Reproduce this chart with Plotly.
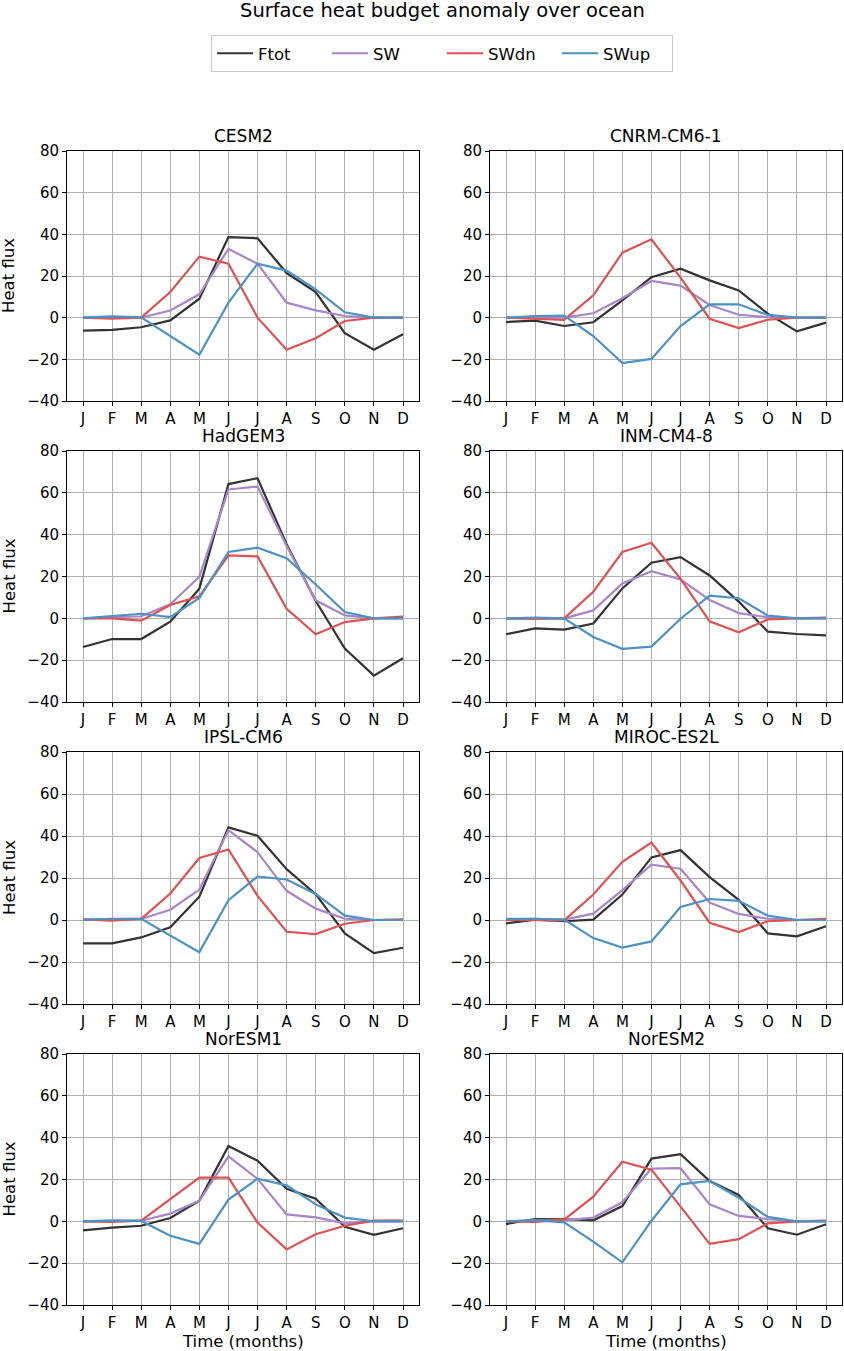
import plotly.graph_objects as go

months = ["J", "F", "M", "A", "M", "J", "J", "A", "S", "O", "N", "D"]
month_idx = list(range(12))

models = ["CESM2", "CNRM-CM6-1", "HadGEM3", "INM-CM4-8",
          "IPSL-CM6", "MIROC-ES2L", "NorESM1", "NorESM2"]

series_names = ["Ftot", "SW", "SWdn", "SWup"]
series_colors = ["#333333", "#a985ca", "#de5253", "#4c92c3"]

# values
ftot_cesm2 = [-6.2, -5.9, -4.6, -1.3, 9.1, 38.7, 38.1, 21.4, 12.3, -7.4, -15.4, -8.0]
sw_cesm2 = [0.0, 0.3, 0.0, 3.4, 11.2, 33.0, 25.9, 7.2, 3.5, 0.8, 0.0, 0.0]
swdn_cesm2 = [0.0, -0.5, 0.0, 12.3, 29.3, 25.9, 0.0, -15.4, -9.9, -1.6, 0.0, 0.0]
swup_cesm2 = [0.0, 0.6, 0.2, -8.8, -17.8, 7.2, 25.9, 22.6, 13.6, 2.6, 0.0, 0.0]

ftot_cnrm = [-2.1, -1.4, -4.0, -2.2, 8.3, 19.4, 23.5, 17.9, 13.1, 1.9, -6.6, -2.4]
sw_cnrm = [0.0, 0.0, 0.0, 2.1, 9.3, 17.6, 15.4, 6.1, 1.4, 0.2, 0.0, 0.0]
swdn_cnrm = [0.0, -0.6, -1.1, 10.7, 31.2, 37.6, 19.2, -0.5, -5.0, -1.0, 0.0, 0.0]
swup_cnrm = [0.0, 0.8, 1.0, -8.8, -21.8, -19.8, -4.0, 6.4, 6.4, 1.3, 0.0, 0.0]

ftot_hadgem = [-13.7, -9.9, -9.9, -1.6, 14.2, 64.2, 67.0, 35.4, 8.3, -14.5, -27.4, -19.1]
sw_hadgem = [0.0, 0.5, 1.0, 6.7, 19.9, 61.6, 63.0, 34.6, 8.6, 1.4, 0.0, 0.0]
swdn_hadgem = [0.0, 0.0, -1.1, 6.4, 10.5, 30.1, 29.6, 4.6, -7.6, -1.8, 0.0, 0.8]
swup_hadgem = [0.0, 1.0, 2.2, 0.6, 9.7, 31.7, 33.8, 28.8, 16.2, 3.0, 0.0, 0.0]

ftot_inm = [-7.6, -4.8, -5.4, -2.5, 14.3, 26.6, 29.3, 20.5, 8.0, -6.4, -7.5, -8.1]
sw_inm = [0.0, 0.0, 0.0, 3.8, 16.7, 22.5, 18.6, 8.8, 2.5, 0.5, 0.0, 0.0]
swdn_inm = [0.0, -0.3, 0.0, 12.7, 31.7, 36.1, 18.9, -1.4, -6.7, -0.5, 0.0, 0.3]
swup_inm = [0.0, 0.3, 0.0, -8.9, -14.6, -13.5, -0.2, 10.8, 9.6, 1.3, 0.0, 0.0]

ftot_ipsl = [-11.1, -11.1, -8.3, -3.5, 11.1, 44.1, 40.1, 24.2, 12.3, -6.4, -15.8, -13.2]
sw_ipsl = [0.3, 0.3, 0.5, 4.9, 14.5, 42.8, 32.3, 13.9, 5.4, 0.6, 0.0, 0.0]
swdn_ipsl = [0.3, -0.3, 0.5, 12.6, 29.5, 33.6, 11.5, -5.6, -6.7, -1.8, 0.0, 0.3]
swup_ipsl = [0.0, 0.6, 0.6, -7.3, -15.3, 9.4, 20.7, 19.3, 12.4, 2.1, 0.0, 0.0]

ftot_miroc = [-1.6, 0.2, -0.6, 0.2, 12.1, 29.8, 33.3, 20.4, 9.6, -6.4, -7.8, -3.0]
sw_miroc = [0.3, 0.6, 0.2, 3.0, 14.2, 26.3, 24.4, 8.3, 2.9, 0.6, 0.0, 0.0]
swdn_miroc = [0.0, -0.2, -0.2, 12.1, 27.7, 36.9, 18.8, -1.3, -5.7, -0.6, 0.0, 0.5]
swup_miroc = [0.5, 0.6, 0.2, -8.6, -13.1, -10.2, 6.2, 10.0, 9.1, 2.1, 0.0, 0.0]

ftot_noresm1 = [-4.3, -3.0, -2.1, 1.6, 9.9, 36.0, 29.0, 15.5, 10.8, -2.6, -6.5, -3.3]
sw_noresm1 = [0.0, 0.3, 0.3, 3.7, 9.9, 31.1, 20.3, 3.3, 1.9, -1.0, 0.0, 0.0]
swdn_noresm1 = [0.0, -0.3, 0.3, 10.7, 20.9, 20.9, -0.6, -13.4, -6.2, -2.1, 0.3, 0.3]
swup_noresm1 = [0.0, 0.5, 0.2, -6.9, -10.8, 10.4, 20.4, 17.2, 8.1, 1.8, 0.0, 0.0]

ftot_noresm2 = [-1.3, 1.1, 1.0, 0.5, 7.3, 30.0, 32.1, 19.3, 12.6, -3.3, -6.4, -1.4]
sw_noresm2 = [0.0, 0.5, 0.5, 1.8, 9.1, 25.2, 25.4, 8.1, 2.6, 1.1, 0.0, 0.0]
swdn_noresm2 = [0.0, -0.3, 0.8, 11.8, 28.5, 24.7, 7.0, -10.8, -8.5, -1.0, 0.0, 0.3]
swup_noresm2 = [0.0, 0.6, -0.5, -9.7, -19.6, 0.3, 17.7, 19.3, 11.3, 2.1, 0.0, 0.0]

panel_data = [
    [ftot_cesm2, sw_cesm2, swdn_cesm2, swup_cesm2],
    [ftot_cnrm, sw_cnrm, swdn_cnrm, swup_cnrm],
    [ftot_hadgem, sw_hadgem, swdn_hadgem, swup_hadgem],
    [ftot_inm, sw_inm, swdn_inm, swup_inm],
    [ftot_ipsl, sw_ipsl, swdn_ipsl, swup_ipsl],
    [ftot_miroc, sw_miroc, swdn_miroc, swup_miroc],
    [ftot_noresm1, sw_noresm1, swdn_noresm1, swup_noresm1],
    [ftot_noresm2, sw_noresm2, swdn_noresm2, swup_noresm2],
]

W, H = 844, 1351
FONT = "DejaVu Sans"

# panel geometry in pixels
col_x = [(67, 419), (490, 842)]
row_y = [(151, 401), (451, 702), (752, 1004), (1054, 1305)]

fig = go.Figure()
layout = dict(
    width=W, height=H,
    margin=dict(l=0, r=0, t=0, b=0, autoexpand=False),
    paper_bgcolor="white", plot_bgcolor="white",
    font=dict(family=FONT, size=15, color="black"),
    showlegend=True,
)
annotations = []

for i, model in enumerate(models):
    r, c = divmod(i, 2)
    ax = "" if i == 0 else str(i + 1)
    x0, x1 = col_x[c]
    y0, y1 = row_y[r]
    xdom = [x0 / W, x1 / W]
    ydom = [1 - y1 / H, 1 - y0 / H]
    axis_common = dict(
        showgrid=True, gridcolor="#b0b0b0", gridwidth=0.8,
        showline=True, linecolor="black", linewidth=1, mirror=True,
        ticks="outside", ticklen=4, tickwidth=1, tickcolor="black",
        zeroline=False, automargin=False,
        tickfont=dict(family=FONT, size=15, color="black"),
    )
    layout["xaxis" + ax] = dict(
        domain=xdom, anchor="y" + ax, range=[-0.55, 11.55],
        tickmode="array", tickvals=month_idx, ticktext=months,
        **axis_common,
    )
    layout["yaxis" + ax] = dict(
        domain=ydom, anchor="x" + ax, range=[-40, 80],
        tickmode="array", tickvals=[-40, -20, 0, 20, 40, 60, 80],
        **axis_common,
    )
    for s, (name, color) in enumerate(zip(series_names, series_colors)):
        fig.add_trace(go.Scatter(
            x=month_idx, y=panel_data[i][s], mode="lines", name=name,
            line=dict(color=color, width=2.2),
            showlegend=(i == 0), legendgroup=name,
            xaxis="x" + ax, yaxis="y" + ax,
        ))
    # panel title
    annotations.append(dict(
        text=model, x=(x0 + x1) / 2 / W, y=1 - (y0 - 15) / H,
        xref="paper", yref="paper", xanchor="center", yanchor="middle",
        showarrow=False, font=dict(family=FONT, size=17, color="black"),
    ))
    if c == 0:
        annotations.append(dict(
            text="Heat flux", x=9 / W, y=1 - (y0 + y1) / 2 / H,
            xref="paper", yref="paper", xanchor="center", yanchor="middle",
            textangle=-90, showarrow=False,
            font=dict(family=FONT, size=16.5, color="black"),
        ))
    if r == 3:
        annotations.append(dict(
            text="Time (months)", x=(x0 + x1) / 2 / W, y=1 - 1341 / H,
            xref="paper", yref="paper", xanchor="center", yanchor="middle",
            showarrow=False, font=dict(family=FONT, size=16.5, color="black"),
        ))

annotations.append(dict(
    text="Surface heat budget anomaly over ocean", x=442 / W, y=1 - 10 / H,
    xref="paper", yref="paper", xanchor="center", yanchor="middle",
    showarrow=False, font=dict(family=FONT, size=19.5, color="black"),
))

layout["annotations"] = annotations
layout["legend"] = dict(
    orientation="h", x=442 / W, xanchor="center", y=1 - 35 / H, yanchor="top",
    bordercolor="#cccccc", borderwidth=1, bgcolor="white",
    font=dict(family=FONT, size=16.5, color="black"),
    entrywidth=64, entrywidthmode="pixels", itemwidth=36,
    traceorder="normal",
)
fig.update_layout(**layout)
fig.write_html(
    "out.html",
    config={"displayModeBar": False},
    post_script="document.body.style.margin='0';document.body.style.overflow='hidden';",
)
